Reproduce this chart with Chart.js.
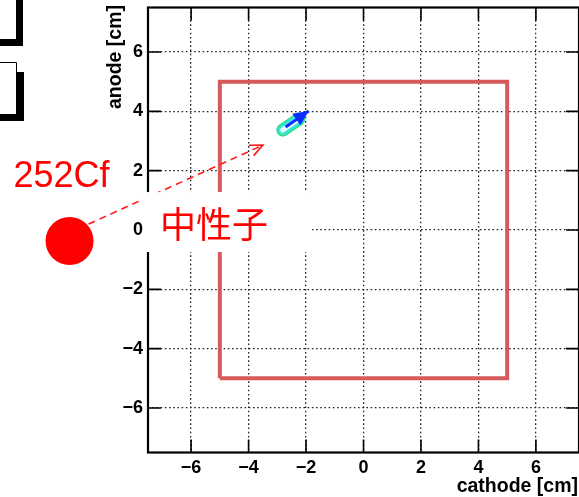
<!DOCTYPE html>
<html lang="ja">
<head>
<meta charset="UTF-8">
<title>anode / cathode hit map</title>
<script src="https://cdn.jsdelivr.net/npm/chart.js"></script>
<style>
  html, body { margin: 0; padding: 0; background: #fff; }
  #wrap { width: 579px; height: 497px; }
</style>
</head>
<body>
<div id="wrap"><canvas id="hitmap" width="579" height="497"></canvas></div>
<script>
// sensitive window of the detector (cm)
const windowX = [-5, -5, 5, 5, -5];
const windowY = [-5, 5, 5, -5, -5];
// reconstructed event: charge cloud extent and track direction (cm)
const cloudX = [-2.81, -2.25];
const cloudY = [3.37, 3.74];
const trackX = [-2.71, -1.91];
const trackY = [3.47, 4.01];
// source and neutron path, in the same frame (cm)
const sourceX = -10.23, sourceY = -0.37;
const neutronX = [-9.57, -3.50];
const neutronY = [0.20, 2.86];
// axes
const axisMin = -7.5, axisMax = 7.5;
const tickStep = 0.5;
const tickLabels = [-6, -4, -2, 0, 2, 4, 6];

const pts = (xs, ys) => xs.map((v, i) => ({x: v, y: ys[i]}));
const isMajor = v => tickLabels.some(t => Math.abs(t - v) < 1e-6);
const fmt = v => (v < 0 ? '\u2212' + (-v) : String(v));

const tickFont = {family: 'Liberation Sans', size: 18, weight: 'bold'};

function axis(pad) {
  return {
    type: 'linear',
    min: axisMin,
    max: axisMax,
    ticks: {
      stepSize: tickStep,
      autoSkip: false,
      maxRotation: 0,
      padding: pad,
      color: '#000',
      font: tickFont,
      callback: v => (isMajor(v) ? fmt(v) : null)
    },
    grid: {
      drawTicks: false,
      lineWidth: 1.3,
      color: c => (c.tick && isMajor(c.tick.value) ? '#222' : 'rgba(0,0,0,0)')
    },
    border: {display: false, dash: [1.6, 2.6]}
  };
}

// ROOT-like frame with inward ticks on all four sides
const framePlugin = {
  id: 'frame',
  beforeDatasetsDraw(chart) {
    const {ctx, chartArea: a, scales: {x, y}} = chart;
    ctx.save();
    ctx.strokeStyle = '#000';
    ctx.lineWidth = 1.6;
    ctx.beginPath();
    x.ticks.forEach(t => {
      const px = x.getPixelForValue(t.value);
      const len = isMajor(t.value) ? 13 : 7;
      ctx.moveTo(px, a.bottom); ctx.lineTo(px, a.bottom - len);
      ctx.moveTo(px, a.top); ctx.lineTo(px, a.top + len);
    });
    y.ticks.forEach(t => {
      const py = y.getPixelForValue(t.value);
      const len = isMajor(t.value) ? 13 : 7;
      ctx.moveTo(a.left, py); ctx.lineTo(a.left + len, py);
      ctx.moveTo(a.right, py); ctx.lineTo(a.right - len, py);
    });
    ctx.stroke();
    ctx.lineWidth = 2.2;
    ctx.strokeRect(a.left, a.top, a.right - a.left, a.bottom - a.top);
    ctx.restore();
  }
};

// arrow head, source marker, neutron path and text labels
const notesPlugin = {
  id: 'notes',
  afterDraw(chart) {
    const {ctx, scales: {x, y}} = chart;
    const X = v => x.getPixelForValue(v);
    const Y = v => y.getPixelForValue(v);
    ctx.save();

    // blue arrow head at the end of the track
    const tx0 = X(trackX[0]), ty0 = Y(trackY[0]);
    const tx1 = X(trackX[1]), ty1 = Y(trackY[1]);
    const ang = Math.atan2(ty1 - ty0, tx1 - tx0);
    ctx.fillStyle = '#0a2cff';
    ctx.beginPath();
    ctx.moveTo(tx1, ty1);
    ctx.lineTo(tx1 - 15 * Math.cos(ang) + 7 * Math.sin(ang), ty1 - 15 * Math.sin(ang) - 7 * Math.cos(ang));
    ctx.lineTo(tx1 - 15 * Math.cos(ang) - 7 * Math.sin(ang), ty1 - 15 * Math.sin(ang) + 7 * Math.cos(ang));
    ctx.closePath();
    ctx.fill();

    // source
    const sx = X(sourceX), sy = Y(sourceY);
    ctx.fillStyle = '#ff0000';
    ctx.beginPath();
    ctx.arc(sx, sy, 24, 0, Math.PI * 2);
    ctx.fill();
    ctx.font = '36px "Liberation Sans"';
    ctx.textAlign = 'left';
    ctx.textBaseline = 'alphabetic';
    ctx.fillText('252Cf', sx - 56, sy - 54);

    // neutron path (dashed, open head)
    const nx0 = X(neutronX[0]), ny0 = Y(neutronY[0]);
    const nx1 = X(neutronX[1]), ny1 = Y(neutronY[1]);
    const na = Math.atan2(ny1 - ny0, nx1 - nx0);
    ctx.strokeStyle = '#ff1a1a';
    ctx.lineWidth = 1.6;
    ctx.setLineDash([7, 5]);
    ctx.beginPath();
    ctx.moveTo(nx0, ny0);
    ctx.lineTo(nx1, ny1);
    ctx.stroke();
    ctx.setLineDash([]);
    ctx.beginPath();
    ctx.moveTo(nx1 - 14 * Math.cos(na - 0.42), ny1 - 14 * Math.sin(na - 0.42));
    ctx.lineTo(nx1, ny1);
    ctx.lineTo(nx1 - 14 * Math.cos(na + 0.42), ny1 - 14 * Math.sin(na + 0.42));
    ctx.stroke();

    // label on a white box
    const lx = X(-7.08), ly = Y(0.2);
    ctx.fillStyle = '#fff';
    ctx.fillRect(lx - 17, ly - 32, 169, 60);
    ctx.fillStyle = '#ff0000';
    ctx.font = '36px "Noto Sans CJK JP"';
    ctx.textBaseline = 'middle';
    ctx.fillText('中性子', lx, ly);

    // axis titles
    ctx.fillStyle = '#000';
    ctx.font = 'bold 19.5px "Liberation Sans"';
    ctx.textAlign = 'right';
    ctx.textBaseline = 'alphabetic';
    ctx.fillText('cathode [cm]', 578, 492);
    ctx.save();
    ctx.translate(121, 5);
    ctx.rotate(-Math.PI / 2);
    ctx.fillText('anode [cm]', 0, 0);
    ctx.restore();

    // edges of the boxes at the top left
    ctx.fillStyle = '#000';
    ctx.fillRect(16, 0, 7, 46);
    ctx.fillRect(0, 39, 23, 7);
    ctx.fillRect(17, 72, 7, 49);
    ctx.fillRect(0, 114, 24, 7);
    ctx.strokeStyle = '#000';
    ctx.lineWidth = 1;
    ctx.beginPath();
    ctx.moveTo(0, 62.5); ctx.lineTo(16.5, 62.5); ctx.lineTo(16.5, 114);
    ctx.stroke();

    ctx.restore();
  }
};

new Chart(document.getElementById('hitmap'), {
  type: 'scatter',
  data: {
    datasets: [
      {data: pts(trackX, trackY), showLine: true, borderColor: '#0a2cff', borderWidth: 3,
       pointRadius: 0, order: 1},
      {data: pts(cloudX, cloudY), showLine: true, borderColor: '#e8fff8', borderWidth: 5,
       borderCapStyle: 'round', pointRadius: 0, order: 2},
      {data: pts(cloudX, cloudY), showLine: true, borderColor: '#36e6dc', borderWidth: 10,
       borderCapStyle: 'round', pointRadius: 0, order: 3},
      {data: pts(cloudX, cloudY), showLine: true, borderColor: '#2ee07c', borderWidth: 13,
       borderCapStyle: 'round', pointRadius: 0, order: 4},
      {data: pts(windowX, windowY), showLine: true, borderColor: '#d65a5a', borderWidth: 4,
       borderJoinStyle: 'miter', pointRadius: 0, order: 5}
    ]
  },
  options: {
    responsive: false,
    animation: false,
    events: [],
    layout: {padding: {left: 0, top: 7.5, right: -2.5, bottom: 0}},
    plugins: {legend: {display: false}, tooltip: {enabled: false}},
    scales: {
      x: Object.assign(axis(5), {
        afterFit(s) { s.height = 44.5; s.paddingLeft = 0; s.paddingRight = 0; }
      }),
      y: Object.assign(axis(5), {
        afterFit(s) { s.width = 148; s.paddingTop = 0; s.paddingBottom = 0; }
      })
    }
  },
  plugins: [framePlugin, notesPlugin]
});
</script>
</body>
</html>
